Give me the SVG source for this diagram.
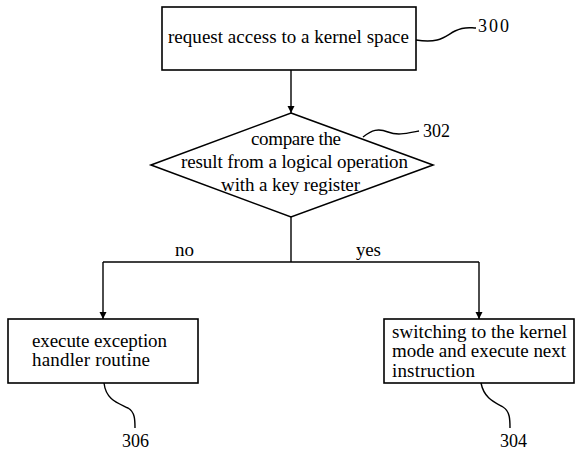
<svg xmlns="http://www.w3.org/2000/svg" width="583" height="454" viewBox="0 0 583 454" font-family="Liberation Serif, Times New Roman, serif">
<style>
.box{fill:#fff;stroke:#000;stroke-width:1.6}
.ln{fill:none;stroke:#000;stroke-width:1.4}
text{font-size:19px;fill:#000}
.num{font-size:18px}
</style>
<defs>
<marker id="ah" viewBox="0 0 10 10" refX="10" refY="5" markerWidth="7" markerHeight="9" markerUnits="userSpaceOnUse" orient="auto">
<path d="M0,0 L10,5 L0,10 Z" fill="#000"/>
</marker>
</defs>
<rect width="583" height="454" fill="#fff"/>
<g id="connectors">
<path class="ln" d="M291,70 V113" marker-end="url(#ah)"/>
<path class="ln" d="M291,217 V262"/>
<path class="ln" d="M103,262 H479"/>
<path class="ln" d="M103,262 V319" marker-end="url(#ah)"/>
<path class="ln" d="M479,262 V319" marker-end="url(#ah)"/>
<text x="175" y="256" textLength="19" lengthAdjust="spacing">no</text>
<text x="356" y="256" textLength="25" lengthAdjust="spacing">yes</text>
</g>
<g id="n300">
<rect class="box" x="162" y="7" width="254" height="63"/>
<text x="168" y="43" textLength="241" lengthAdjust="spacing">request access to a kernel space</text>
<path class="ln" d="M416,40 C440,44 445,36 455,31 C465,26 470,28 476,28"/>
<text class="num" x="478" y="32" textLength="31" lengthAdjust="spacing">300</text>
</g>
<g id="n302">
<polygon class="box" points="291,113 433,165 291,217 151,165"/>
<text x="251" y="145" textLength="90" lengthAdjust="spacing">compare the</text>
<text x="181" y="168" textLength="227" lengthAdjust="spacing">result from a logical operation</text>
<text x="221" y="191" textLength="139" lengthAdjust="spacing">with a key register</text>
<path class="ln" d="M363,137 C372,130 378,128 388,132 C398,136 408,133 419,131"/>
<text class="num" x="423" y="137" textLength="27" lengthAdjust="spacing">302</text>
</g>
<g id="n306">
<rect class="box" x="8" y="319" width="190" height="64"/>
<text x="32" y="347" textLength="135" lengthAdjust="spacing">execute exception</text>
<text x="32" y="366" textLength="118" lengthAdjust="spacing">handler routine</text>
<path class="ln" d="M104,383 C106,400 118,403 128,408 C135,412 135,420 135,428"/>
<text class="num" x="122" y="447" textLength="27" lengthAdjust="spacing">306</text>
</g>
<g id="n304">
<rect class="box" x="384" y="319" width="190" height="64"/>
<text x="392" y="338" textLength="175" lengthAdjust="spacing">switching to the kernel</text>
<text x="392" y="357" textLength="174" lengthAdjust="spacing">mode and execute next</text>
<text x="392" y="377" textLength="83" lengthAdjust="spacing">instruction</text>
<path class="ln" d="M481,383 C484,398 494,402 503,407 C510,411 510,420 510,428"/>
<text class="num" x="500" y="447" textLength="27" lengthAdjust="spacing">304</text>
</g>
</svg>
